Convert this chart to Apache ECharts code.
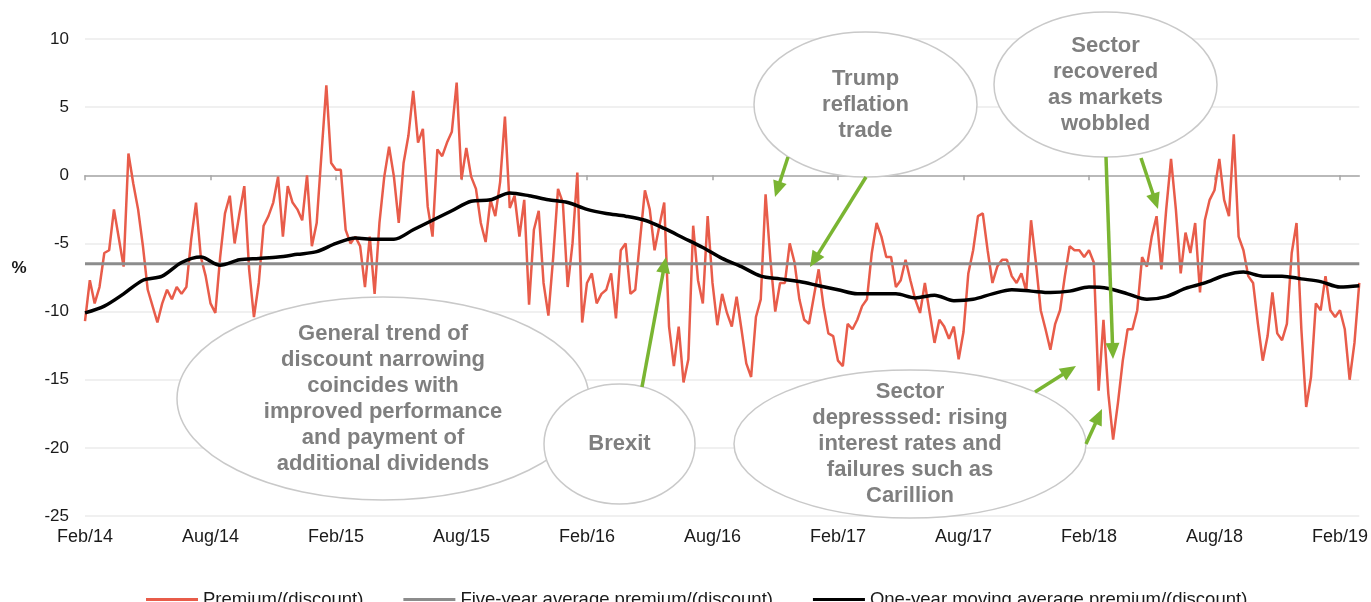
<!DOCTYPE html>
<html>
<head>
<meta charset="utf-8">
<title>Premium/(discount)</title>
<script src="https://cdn.jsdelivr.net/npm/echarts@6/dist/echarts.min.js"></script>
<style>
  html, body { margin: 0; padding: 0; background: #fff; }
  #chart { width: 1371px; height: 602px; }
</style>
</head>
<body>
<div id="chart"></div>
<script>
  // x axis labels, one every 26 weeks
  var tickLabels = ['Feb/14', 'Aug/14', 'Feb/15', 'Aug/15', 'Feb/16', 'Aug/16',
    'Feb/17', 'Aug/17', 'Feb/18', 'Aug/18', 'Feb/19'];

  // weekly premium/(discount) in %, from Feb 2014 (one row = half a year)
  var premium = [
    -10.7, -7.7, -9.4, -8.2, -5.7, -5.5, -2.5, -4.6, -6.7, 1.6, -0.6, -2.5, -5.2, -8.4, -9.6, -10.8, -9.4, -8.4, -9.1, -8.2, -8.7, -8.2, -4.7, -2.0, -6.0, -7.4,
    -9.4, -10.1, -6.0, -2.8, -1.5, -5.0, -2.8, -0.8, -6.9, -10.4, -7.9, -3.7, -3.0, -2.0, -0.1, -4.5, -0.8, -2.0, -2.5, -3.3, 0.0, -5.2, -3.5, 1.6, 6.6, 0.9,
    0.4, 0.4, -4.0, -5.0, -4.5, -5.2, -8.2, -4.5, -8.7, -3.5, -0.1, 2.1, -0.1, -3.5, 0.9, 2.9, 6.2, 2.4, 3.4, -2.3, -4.5, 1.9, 1.4, 2.4, 3.2, 6.8,
    -0.3, 2.0, -0.1, -1.0, -3.5, -4.9, -1.8, -3.0, -0.5, 4.3, -2.4, -1.5, -4.5, -1.8, -9.5, -4.0, -2.6, -7.9, -10.3, -6.0, -1.0, -2.0, -8.2, -5.0, 0.2, -10.8,
    -7.9, -7.2, -9.4, -8.7, -8.4, -7.2, -10.5, -5.5, -5.0, -8.7, -8.4, -4.7, -1.1, -2.5, -5.5, -3.7, -2.0, -11.1, -14.0, -11.1, -15.2, -13.5, -3.7, -7.7, -9.4, -3.0,
    -7.9, -11.0, -8.7, -10.1, -11.1, -8.9, -11.3, -13.8, -14.8, -10.4, -9.1, -1.4, -6.2, -10.0, -7.9, -7.9, -5.0, -6.4, -9.1, -10.6, -10.9, -8.9, -6.9, -9.6, -11.6, -11.8,
    -13.6, -14.0, -10.9, -11.3, -10.6, -9.6, -9.1, -5.7, -3.5, -4.5, -6.0, -6.0, -8.2, -7.7, -6.2, -7.7, -9.1, -10.1, -7.9, -10.1, -12.3, -10.6, -11.1, -12.0, -11.1, -13.5,
    -11.5, -7.2, -5.5, -3.0, -2.8, -5.5, -7.9, -6.7, -6.2, -6.2, -7.4, -7.9, -7.2, -8.5, -3.3, -6.4, -9.9, -11.3, -12.8, -10.9, -9.9, -7.4, -5.2, -5.5, -5.5, -6.0,
    -5.5, -6.4, -15.8, -10.6, -16.0, -19.4, -16.7, -13.6, -11.3, -11.3, -9.9, -6.0, -6.7, -4.5, -3.0, -6.9, -2.5, 1.2, -2.5, -7.2, -4.2, -5.7, -3.5, -8.6, -3.3, -1.8,
    -1.1, 1.2, -1.8, -3.0, 3.0, -4.5, -5.5, -7.4, -7.9, -10.9, -13.6, -11.8, -8.6, -11.6, -12.1, -10.9, -5.7, -3.5, -11.3, -17.0, -14.8, -9.4, -9.9, -7.4, -9.9, -10.4,
    -9.9, -11.3, -15.0, -12.3, -7.9
  ];

  var movingAvg = [
    -10.1, -9.6, -8.7, -7.7, -7.4, -6.4, -6.0, -6.6, -6.2, -6.1, -6.0, -5.8, -5.6, -5.0, -4.6, -4.7, -4.7,
    -4.0, -3.3, -2.6, -1.9, -1.8, -1.3, -1.5, -1.8, -2.0, -2.5, -2.8, -3.0, -3.3, -3.9, -4.6, -5.3, -6.1,
    -6.7, -7.4, -7.6, -7.8, -8.1, -8.4, -8.7, -8.7, -8.7, -9.0, -8.8, -9.2, -9.1, -8.7, -8.4, -8.5, -8.6,
    -8.5, -8.2, -8.3, -8.7, -9.1, -8.9, -8.3, -7.9, -7.35, -7.1, -7.4, -7.4, -7.6, -7.8, -8.2, -8.1
  ];
  var avgStep = 4;

  var fiveYearAvg = -6.5;

  var weeks = [];
  var d = new Date(Date.UTC(2014, 1, 7));
  for (var i = 0; i < premium.length; i++) {
    weeks.push(d.toISOString().slice(0, 10));
    d = new Date(d.getTime() + 7 * 86400000);
  }
  var tickEvery = 26;

  var font = "'Liberation Sans', Arial, sans-serif";
  var green = '#7ab532';
  var noteColor = '#7f7f7f';

  // ellipse + centred text for each note
  function note(cx, cy, rx, ry, text) {
    return [{
      type: 'ellipse', z: 100, silent: true,
      shape: { cx: cx, cy: cy, rx: rx, ry: ry },
      style: { fill: '#fff', stroke: '#c9c9c9', lineWidth: 1.5 }
    }, {
      type: 'text', z: 101, silent: true,
      style: {
        text: text, x: cx, y: cy, align: 'center', verticalAlign: 'middle',
        textAlign: 'center', textVerticalAlign: 'middle',
        font: 'bold 22px ' + font, fill: noteColor, lineHeight: 26
      }
    }];
  }

  function arrow(x1, y1, x2, y2) {
    var dx = x2 - x1, dy = y2 - y1;
    var len = Math.sqrt(dx * dx + dy * dy);
    var ux = dx / len, uy = dy / len;
    var head = 16, half = 7;
    var bx = x2 - ux * head, by = y2 - uy * head;
    return [{
      type: 'line', z: 102, silent: true,
      shape: { x1: x1, y1: y1, x2: bx + ux * 2, y2: by + uy * 2 },
      style: { stroke: green, lineWidth: 3.5 }
    }, {
      type: 'polygon', z: 102, silent: true,
      shape: { points: [[x2, y2], [bx - uy * half, by + ux * half], [bx + uy * half, by - ux * half]] },
      style: { fill: green }
    }];
  }

  var graphics = [].concat(
    note(383, 398.5, 206, 101.5, 'General trend of\ndiscount narrowing\ncoincides with\nimproved performance\nand payment of\nadditional dividends'),
    note(619.5, 444, 75.5, 60, 'Brexit'),
    note(910, 444, 176, 74, 'Sector\ndepresssed: rising\ninterest rates and\nfailures such as\nCarillion'),
    note(865.5, 104.5, 111.5, 72.5, 'Trump\nreflation\ntrade'),
    note(1105.5, 84.5, 111.5, 72.5, 'Sector\nrecovered\nas markets\nwobbled'),
    arrow(788, 157, 775, 197),
    arrow(866, 177, 810, 267),
    arrow(642, 387, 666, 257),
    arrow(1106, 157, 1113, 359),
    arrow(1141, 158, 1158, 209),
    arrow(1035, 392, 1076, 366),
    arrow(1086, 444, 1102, 409),
    [{
      type: 'text', silent: true,
      style: { text: '%', x: 19, y: 268, align: 'center', verticalAlign: 'middle',
        textAlign: 'center', textVerticalAlign: 'middle', font: 'bold 17px ' + font, fill: '#1a1a1a' }
    }]
  );

  var chart = echarts.init(document.getElementById('chart'), null, { renderer: 'canvas' });
  chart.setOption({
    animation: false,
    backgroundColor: '#fff',
    textStyle: { fontFamily: font },
    grid: { left: 85, right: 11, top: 39, bottom: 86, containLabel: false },
    legend: {
      left: 141, top: 585, itemGap: 40, itemWidth: 52, itemHeight: 3, icon: 'rect',
      textStyle: { fontSize: 18.5, color: '#1a1a1a', fontFamily: font },
      data: ['Premium/(discount)', 'Five-year average premium/(discount)', 'One-year moving average premium/(discount)']
    },
    xAxis: [{
      // line and ticks sit on zero
      type: 'category', data: weeks, boundaryGap: false,
      axisLine: { onZero: true, lineStyle: { color: '#a6a6a6', width: 1.5 } },
      axisTick: { interval: tickEvery - 1, length: 5, lineStyle: { color: '#a6a6a6', width: 1.5 } },
      axisLabel: { show: false },
      splitLine: { show: false }
    }, {
      // labels along the bottom
      type: 'category', data: weeks, boundaryGap: false, position: 'bottom',
      axisLine: { show: false, onZero: false },
      axisTick: { show: false },
      axisLabel: {
        interval: tickEvery - 1, margin: 12, fontSize: 18, color: '#1a1a1a',
        formatter: function (v, idx) { return tickLabels[idx / tickEvery]; }
      },
      splitLine: { show: false }
    }],
    yAxis: {
      type: 'value', min: -25, max: 10, interval: 5,
      axisLine: { show: false }, axisTick: { show: false },
      axisLabel: { fontSize: 17, color: '#1a1a1a', margin: 16 },
      splitLine: { lineStyle: { color: '#ebebeb', width: 1.5 } }
    },
    series: [{
      name: 'Premium/(discount)', type: 'line', xAxisIndex: 0,
      data: premium, symbol: 'none', z: 2,
      lineStyle: { color: '#e85c4a', width: 2.5 }, itemStyle: { color: '#e85c4a' }
    }, {
      name: 'Five-year average premium/(discount)', type: 'line', xAxisIndex: 0,
      data: [[weeks[0], fiveYearAvg], [weeks[weeks.length - 1], fiveYearAvg]],
      symbol: 'none', z: 3,
      lineStyle: { color: '#8c8c8c', width: 3 }, itemStyle: { color: '#8c8c8c' }
    }, {
      name: 'One-year moving average premium/(discount)', type: 'line', xAxisIndex: 0,
      data: movingAvg.map(function (v, k) { return [weeks[k * avgStep], v]; }),
      symbol: 'none', smooth: 0.3, z: 4,
      lineStyle: { color: '#000', width: 3.5 }, itemStyle: { color: '#000' }
    }],
    graphic: graphics
  });
</script>
</body>
</html>
